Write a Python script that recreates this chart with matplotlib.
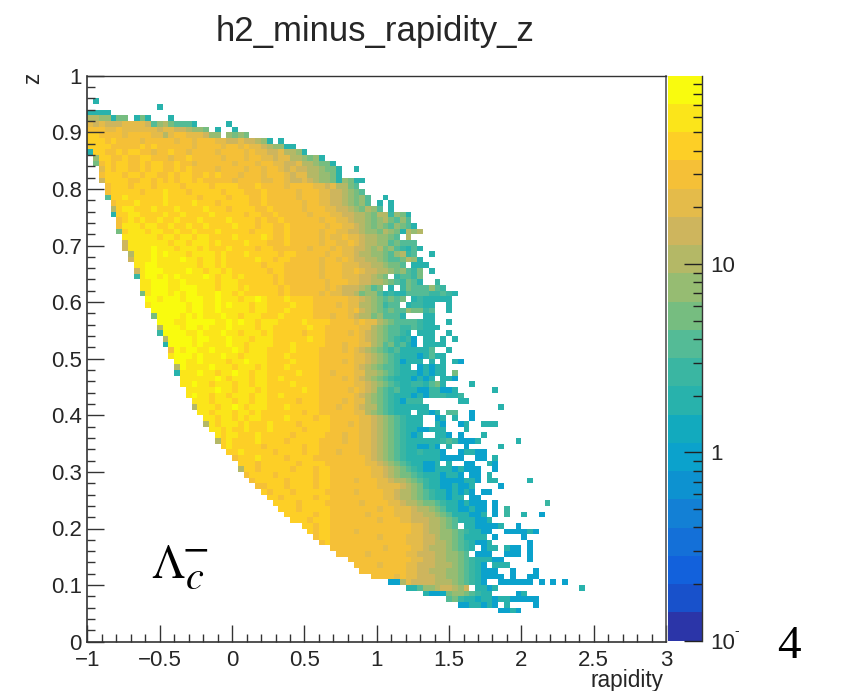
import numpy as np
import matplotlib
matplotlib.use("Agg")
import matplotlib.pyplot as plt
from matplotlib.colors import ListedColormap, BoundaryNorm
from matplotlib.ticker import FixedLocator, FixedFormatter, MultipleLocator, NullFormatter

W, H = 854, 691
plt.rcParams['font.family'] = ['Liberation Sans', 'DejaVu Sans']

TITLE = "h2_minus_rapidity_z"
X_LABEL = "rapidity"
Y_LABEL = "z"
X_TICKS = [-1, -0.5, 0, 0.5, 1, 1.5, 2, 2.5, 3]
X_TICK_LABELS = ["\u22121", "\u22120.5", "0", "0.5", "1", "1.5", "2", "2.5", "3"]
Y_TICKS = [0, 0.1, 0.2, 0.3, 0.4, 0.5, 0.6, 0.7, 0.8, 0.9, 1]
Y_TICK_LABELS = ["0", "0.1", "0.2", "0.3", "0.4", "0.5", "0.6", "0.7", "0.8", "0.9", "1"]
CB_TICKS = [0.1, 1, 10]
CB_TICK_LABELS = ["10", "1", "10"]
CB_MINOR = [0.2, 0.3, 0.4, 0.5, 0.6, 0.7, 0.8, 0.9, 2, 3, 4, 5, 6, 7, 8, 9,
            20, 30, 40, 50, 60, 70, 80, 90]

LEVEL_CODES = "abcdefghijklmnopqrst"
LEVEL_COLORS = ["#2B35A8", "#1851CB", "#1261DC", "#1470D8", "#1380D5", "#0D92D0", "#0BA2CC",
                "#12AABE", "#28B2AC", "#3AB6A2", "#54BB96", "#76BD80", "#96BC72", "#B4B866",
                "#CEB55D", "#E4BB4A", "#F5C037", "#FDCF26", "#FBE51A", "#F9FB0E"]
LOG_MIN, LOG_MAX = -1.0, 2.0

# (z bin, first rapidity bin, level codes; '.' leaves a bin empty)
cells_top = [
 (95, 1, "i"), (94, 12, "i"), (93, 0, "iiii"),
 (92, 0, "nnmmill"), (92, 8, "ili"), (92, 14, "i"),
 (91, 0, "popoooppppokmnlkkki"), (91, 24, "i"),
 (90, 0, "qqqppqppppppoppoonmml"), (90, 22, "i"), (90, 25, "i"),
 (89, 0, "rrqqqqpqqqqppnpqqpppomm"), (89, 24, "mlml"),
 (88, 0, "rrrqrqqqqpqqqqqpqqpqqqppoopoonmi"), (88, 33, "i"),
 (87, 0, "rrrrqqqqqrqrqqqqqqpqqqqpqqpqpponmmii"),
 (86, 0, "irrqqrqrrqqpqqrqqpqqqqpqqqqpqppoopnnmi"),
 (85, 1, "mrrqqrqqrrqqqpqqrqqqqqpqqqpqqppoppnnmlmi"),
 (84, 1, "lqrqrrqqrqrrqqrqqpqqqqqqpqqqpqqppoopnnmlli"),
 (83, 2, "prqrrqqrqrrqqrqrqqqqpqqqqpqqpqqpopoonnmlli"), (83, 46, "i"),
 (82, 2, "qrrrqrrqrrqqrqrrqqrqrqqqpqqqpqqqpoppnnmmli"),
 (81, 2, "orrrrqqrrqrqrqrrqrqqqqqpqqqqppqqpooponmmli"), (81, 44, "mlii"),
 (80, 3, "qrrrqrrrqrrrrqrrrrqrrrrqqqrqqqqpqqqqppopnnlk"),
 (79, 3, "qrrrrrqrrrsrrrqrrrrrqrrrqqqrqqqqqpqqqppoonmlk"),
 (78, 3, "krrsrrrrrrsrrrrrqrrrrqrrrqqrqqqqqpqqqppoonmlmk"), (78, 51, "i"),
 (77, 4, "qrrrsrrrrsrrrrsrrrqrrrrrqqrqqqqqqpqqppoonmlmk"), (77, 50, "i"), (77, 52, "i"),
 (76, 4, "nrssrrrsrrrsrrrrsrrrqrrrrqqrqqqqqpqqqppoonmlnmk"), (76, 52, "i"),
 (75, 4, "irrssrrrrsrrsrrrrsrrrrrqrrqqrqqqqqpqqqppoonnmlnnjmli"),
 (74, 5, "qrsrsrrsrrsrrrsrrrrsrrrrqrqqrqqqqqqpqqpponnmlmnlkmk"),
 (73, 5, "qsssrssrrsrrsrrsrrrrsrrrqrrqqrqqqqqqpqqpponmlmlkmlki"),
 (72, 5, "lrsssrssrrsrrsrrrsrrrrrqrrrqqrqqqqqpqqppoonmmlnmlinmn"),
 (71, 6, "ssssssrssrssrssrrrrsrrrrsrqqrqqqqqpqppqpponnmmlk"), (71, 55, "n"),
 (70, 6, "osssssssrssrsssrsrrrrsrrrqqqrqqqqqpqqppqponnmmklkkk"),
 (69, 6, "osssstsssrsssrsrrrsrrrrqrrqqqqqqpqqqpqppoonmnlmkjiki"),
 (68, 7, "nssststsssrssssrsrrrsrrrrrqrrqqqqqpqqpponnmmlkmnjk"), (68, 59, "i"),
 (67, 7, "ossstsssstssrssrsrrrrrsrrqrrqqqqqpqqpqpoonnmlkklnmi"),
 (66, 8, "ssttsssssssrssrsrrrrrrqrrrqqqqqqpqqqpppoonnmllk"), (66, 56, "iii"),
 (65, 8, "ostttsssstssrssrsrrrrrrqrrqqqqqqpqqqppqpoonnmlmkjl"), (65, 59, "i"),
 (64, 8, "jsttststsssstsrssrsrrrrrqrqqqqqqpqqqpppoonml"), (64, 53, "jkkjl"),
 (63, 9, "sstttsstsssssrsssrrrrrrqrqqqqqqqpqqqppoonnmlkjlki"), (63, 60, "j"),
]
cells_mid = [
 (62, 9, "sstttsstttsssrsssrsrrrrrqrqqqqqqpqpooonmkl.i.jlkkkmkj"),
 (61, 9, "lstttststtssstssrsrrrrrrqrqqqqqpqppoonlmmkijiikkkkjjkj"), (61, 63, "i"),
 (60, 10, "ttstttstttsstsssrsstsrrrsrrrrqqqqqqpponmlkl"), (60, 53, "kl"), (60, 56, "ij"), (60, 58, "ii"), (60, 60, "iii"),
 (59, 10, "sttttttsttsststsssrssrrrrsrrrqqqqpqppnnmljk"), (59, 53, "k"), (59, 55, "ijjii"), (59, 62, "i"),
 (58, 11, "ttttttsttsstsssssrssrrrsrrrrqqqqqqpqonmlkl"), (58, 53, "kkmlljk"), (58, 62, "i"),
 (57, 11, "lttttststssstssrsssrrrsrrrrrqqqpqqponnlmkk"), (57, 53, "ki"), (57, 58, "ii"),
 (56, 12, "tttsstttttsststssrsssrrrrsrrrrqqqqpqppnmlkkk"), (56, 55, "kkjii"), (56, 62, "i"),
 (55, 12, "ntttsttstssstssssrssrrrrrrsrrqqqqqqppnmlkkj"), (55, 55, "jkjiii"),
 (54, 12, "jttttsstssstssrsssrsrrrrrqrrrqqqqpqponmlkkj"), (54, 55, "i"), (54, 57, "iii"), (54, 62, "i"),
 (53, 13, "nttttsttssstsssrsssrrrrrrsrrqqqqqqponmlkji"), (53, 55, "jg"), (53, 58, "ii"), (53, 61, "i"), (53, 63, "i"),
 (52, 13, "ittttstsssstssrssssrrrsrrrrrqqqpqqppnmkljk"), (52, 55, "ig"), (52, 58, "iii"), (52, 61, "i"),
 (51, 14, "qtsttsstssstsrsssrrrrsrrrrqqqqpqponmlkjk"), (51, 54, "iii"), (51, 57, "iik"), (51, 62, "i"),
 (50, 14, "stttstssstssrssssrrrsrrrrrqqqqqqpponmlkj"), (50, 54, "iiig"), (50, 58, "iki"), (50, 61, "i"),
 (49, 15, "ttsstssssrsstsssrrrrsrrrrqqqqpqpponmlkj"), (49, 54, "giii"), (49, 59, "i"), (49, 61, "i"), (49, 63, "ig"),
 (48, 15, "ntsssstsssrsssrsrrrsrrrrrqqqqqqponmlkkj"), (48, 54, "ii"), (48, 57, "gigi"), (48, 61, "i"),
 (47, 15, "issstssrsstssrssrrrrrsrrrqqpqqqppnnmlkj"), (47, 54, "iiig"), (47, 58, "igi"), (47, 61, "i"), (47, 63, "l"),
 (46, 16, "sssssstsrsssrssrrsrrrrrrqqqqpqponmlkji"), (46, 54, "iig"), (46, 57, "igi"), (46, 61, "ii"), (46, 63, "g"),
 (45, 16, "sstssrsssrssrssrrrrsrrrrqqqqqqpponmlkj"), (45, 54, "ii"), (45, 56, "jjikli"), (45, 66, "i"),
 (44, 17, "ssssstssrsssrsrrrrrrsrrqqqqqpqponlkjk"), (44, 54, "i"), (44, 55, "iiggjjggi"), (44, 70, "i"),
 (43, 17, "stssrssrsssrssrrsrrrrrrqqqqqqponmlkji"), (43, 54, "iigigjjjiij"),
 (42, 18, "sssrsssrssrssrrrrrqrrrqqqqpqppnmlkji"), (42, 54, "gjjj"), (42, 64, "ii"),
 (41, 18, "nsssrsstsrsssrrrsrrrrrqqqpqqponnlkji"), (41, 54, "iiiii"), (41, 71, "i"),
 (40, 19, "ssrsssrssrsrrrrrrrqrrqqqqqqppnmlkji"), (40, 54, "ii"), (40, 57, "iig"), (40, 60, "i"), (40, 62, "kk"), (40, 66, "g"),
]
cells_low = [
 (39, 20, "ssrssrsrssrrrrsrrrrqrrqqqqqpponmlkj"), (39, 55, "iii"), (39, 60, "gi"), (39, 63, "i"), (39, 66, "g"),
 (38, 20, "nsrsssrsrrrsrrrrqrrrrrqqqpqpponmlkj"), (38, 55, "iii"), (38, 60, "ig"), (38, 64, "gi"), (38, 68, "iii"),
 (37, 21, "ssrsrrsrrrsrrrrrqrrrrqqqqqpponmlkj"), (37, 55, "iiggiii"), (37, 65, "i"),
 (36, 22, "srssrrrsrrrrrqrrrrrqqqpqqpponmlkj"), (36, 55, "igi"), (36, 60, "iig"), (36, 64, "g"), (36, 68, "i"),
 (35, 22, "nrsrrrrsrrrrqrrrrrqqqqpqqpponmlkj"), (35, 55, "iiiiii"), (35, 61, "jkjgggi"), (35, 74, "i"),
 (34, 23, "rsrrrrrqrrrrrrqrrqqqqqqqpponmlkj"), (34, 55, "iiggig"), (34, 62, "i"), (34, 65, "g"), (34, 71, "i"),
 (33, 24, "rrsrrrrrqrrrrqrrqqqpqqqpponmlkj"), (33, 55, "iijiii"), (33, 61, "g"), (33, 64, "gi"), (33, 66, "ig"), (33, 68, "g"),
 (32, 25, "qrrrsrrrrqrrrrqqqqqqqqqponmlkj"), (32, 55, "iiiiiig"), (32, 62, "ggg"), (32, 67, "gg"), (32, 70, "i"),
 (31, 26, "rrrqrrrrrrqrrrrqqqqqqqpponmlkj"), (31, 56, "i"), (31, 57, "iggi"), (31, 62, "i"), (31, 65, "gg"), (31, 69, "ig"),
 (30, 26, "nrrqrrrrrqrrrqrrqqqqqqqpponmlkj"), (30, 57, "iggiiig"), (30, 64, "ig"), (30, 66, "gg"), (30, 70, "g"),
 (29, 27, "qrrrrqrrrrrrqrrqqqqqqqpponmllk"), (29, 57, "jiiigiig"), (29, 66, "gg"), (29, 69, "i"),
 (28, 28, "qrrrrrqrrrrqrrqqqqpqqqpponnmlk"), (28, 58, "jiiggggiig"), (28, 69, "ii"), (28, 76, "i"),
 (27, 29, "qqrrrqrrrrqrrqqqqqqqqpppponmlk"), (27, 58, "jiiggiggi"), (27, 71, "g"),
 (26, 30, "rqrrrqrrrrrqqqqqpqqqqpponnmlk"), (26, 59, "jiigigig"), (26, 68, "gg"),
 (25, 31, "rrqrrrrrqrrqqqqqqqqqpponnmlk"), (25, 59, "jiigii"), (25, 66, "gg"),
 (24, 32, "rrrrqrrrrqqqqqqpqqqqpponnmllkj"), (24, 62, "iig"), (24, 65, "iggg"), (24, 70, "g"), (24, 79, "j"),
 (23, 33, "rrrqrrrrrqqqqqqqqpqqppponnmlkj"), (23, 62, "iig"), (23, 65, "gigg"), (23, 70, "g"), (23, 72, "j"),
 (22, 34, "rrrrrqrrqqqqqqpqqqqpppoonnmlkj"), (22, 63, "i"), (22, 64, "iiggi"), (22, 70, "g"), (22, 72, "j"), (22, 75, "i"), (22, 78, "g"),
 (21, 35, "rrrqrrrqqqqqqqqpqqqppooonnmlkj"), (21, 64, "iiiggi"),
 (20, 37, "rrqrrqqqqqqqqqqqqqqpponnmlk"), (20, 65, "iiggggi"), (20, 74, "g"),
 (19, 38, "rqrrqqqqpqqqqqqqqqpponnmmlkj"), (19, 66, "iigg"), (19, 72, "ggggig"),
 (18, 39, "qrrqqqqqqqqpqqqqpppoonmmlk"), (18, 65, "iiii"), (18, 70, "g"), (18, 75, "g"),
 (17, 40, "qrqqqqqqqqqqqqqpppoonnmlkj"), (17, 66, "i"), (17, 67, "ggi"), (17, 76, "g"),
 (16, 42, "qqqqqqqqqpqqqqpponnnmlkj"), (16, 66, "i"), (16, 68, "gi"), (16, 70, "i"), (16, 72, "igg"), (16, 76, "g"),
 (15, 43, "qqqqqpqqqqqqppooonnmmlk"), (15, 67, "ggg"), (15, 72, "ggg"), (15, 76, "g"),
 (14, 45, "qqqqqqqqqqqppoonnmmlkj"), (14, 67, "iiigg"), (14, 76, "g"),
 (13, 46, "qqqqpqqqqppooonnnmlkj"), (13, 67, "ig"), (13, 70, "iii"),
 (12, 47, "qqqqqqqqppoonnnmmlkj"), (12, 67, "igg"), (12, 70, "g"), (12, 73, "g"), (12, 77, "g"),
 (11, 49, "qqqqpqppooonnmmlkj"), (11, 67, "igg"), (11, 70, "gg"), (11, 73, "g"), (11, 76, "gg"),
 (10, 52, "ggnpoooonnnmlkjig"), (10, 71, "gggggg"), (10, 78, "g"), (10, 80, "g"), (10, 82, "g"),
 (9, 55, "iikmmnoonmo"), (9, 67, "iig"), (9, 70, "i"), (9, 85, "i"),
 (8, 58, "igghlmmlkjii"), (8, 74, "gi"),
 (7, 62, "kljiihiigiig"), (7, 74, "gggg"),
 (6, 64, "ggiigig"), (6, 72, "i"), (6, 77, "g"),
 (5, 71, "ggig"),
]

x_edges = np.linspace(-1, 3, 101)
y_edges = np.linspace(0, 1, 101)
n_levels = len(LEVEL_CODES)
level_bounds = np.logspace(LOG_MIN, LOG_MAX, n_levels + 1)
level_values = np.sqrt(level_bounds[:-1] * level_bounds[1:])

counts = np.full((100, 100), np.nan)
for row, col, codes in cells_top + cells_mid + cells_low:
    for k, ch in enumerate(codes):
        if ch in LEVEL_CODES and col + k < 100:
            counts[row, col + k] = level_values[LEVEL_CODES.index(ch)]

cmap = ListedColormap(LEVEL_COLORS)
norm = BoundaryNorm(level_bounds, n_levels)


def box(l, t, r, b):
    return [l / W, 1 - b / H, (r - l) / W, (b - t) / H]


TEXT = "#262626"
fig = plt.figure(figsize=(W / 100, H / 100), dpi=100, facecolor="white")
ax = fig.add_axes(box(87.5, 75.7, 666, 641.7))
ax.pcolormesh(x_edges, y_edges, np.ma.masked_invalid(counts), cmap=cmap, norm=norm, linewidth=0)
ax.set_xlim(-1, 3)
ax.set_ylim(0, 1)
ax.spines["left"].set(linewidth=1.2, color="#333333")
ax.spines["bottom"].set(linewidth=1.2, color="#333333")
ax.spines["top"].set(linewidth=1.0, color="#333333")
ax.spines["right"].set(linewidth=1.2, color="#555555")
ax.set_xticks(X_TICKS, X_TICK_LABELS)
ax.set_yticks(Y_TICKS, Y_TICK_LABELS)
ax.xaxis.set_minor_locator(MultipleLocator(0.1))
ax.yaxis.set_minor_locator(MultipleLocator(0.02))
ax.tick_params(which="major", direction="in", length=12.2, width=1.0, color="#333333",
               labelsize=16, labelcolor=TEXT, top=False, right=False, pad=4)
ax.tick_params(axis="x", which="major", pad=6)
ax.tick_params(which="minor", direction="in", length=6, width=1.0, color="#333333",
               top=False, right=False)

cax = fig.add_axes(box(668.3, 75.7, 702, 640.7))
cax.pcolormesh([0, 1], level_bounds, np.arange(n_levels).reshape(-1, 1), cmap=cmap,
               vmin=-0.5, vmax=n_levels - 0.5, linewidth=0)
cax.set_yscale("log")
cax.set_ylim(level_bounds[0], level_bounds[-1])
cax.set_xlim(0, 1)
cax.set_xticks([])
for side in ("left", "top", "bottom"):
    cax.spines[side].set_visible(False)
cax.spines["right"].set(linewidth=1.0, color="#333333")
cax.yaxis.tick_right()
cax.yaxis.set_major_locator(FixedLocator(CB_TICKS))
cax.yaxis.set_major_formatter(FixedFormatter(CB_TICK_LABELS))
cax.yaxis.set_minor_locator(FixedLocator(CB_MINOR))
cax.yaxis.set_minor_formatter(NullFormatter())
cax.tick_params(which="major", axis="y", direction="in", length=13, width=1.0, color="#222222",
                labelsize=16, labelcolor=TEXT, pad=6, left=False, right=True)
cax.tick_params(which="minor", axis="y", direction="in", length=6.5, width=1.0, color="#222222",
                left=False, right=True)

fig.text(375 / W, 1 - 31 / H, TITLE, ha="center", va="center", fontsize=25, color=TEXT)
fig.text(664 / W, 1 - 680 / H, X_LABEL, ha="right", va="center", fontsize=16.3, color=TEXT)
fig.text(33 / W, 1 - 78 / H, Y_LABEL, ha="center", va="center", rotation=90, fontsize=16.3, color=TEXT)
fig.text(734 / W, 1 - 631 / H, "-", ha="left", va="center", fontsize=10, color=TEXT)
fig.text(151 / W, 1 - 578 / H, r"$\Lambda$", ha="left", va="baseline", fontsize=34,
         color="black", math_fontfamily="stix")
fig.text(185 / W, 1 - 589 / H, r"$c$", ha="left", va="baseline", fontsize=29,
         color="black", math_fontfamily="stix")
fig.text(195 / W, 1 - 548 / H, r"$-$", ha="center", va="center", fontsize=28,
         color="black", math_fontfamily="stix")
fig.text(789 / W, 1 - 647 / H, "4", ha="center", va="center", fontsize=34, color="black",
         family="Liberation Serif")

fig.savefig("out.png", dpi=100)
